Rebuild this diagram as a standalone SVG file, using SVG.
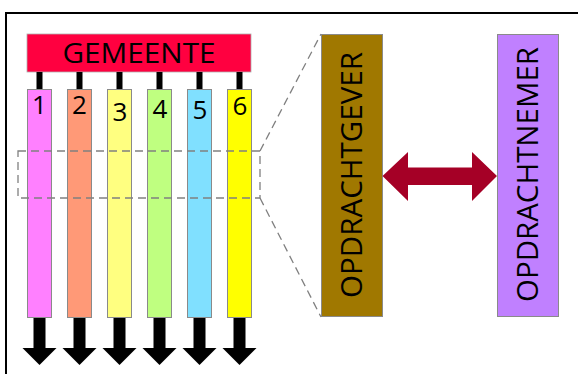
<svg xmlns="http://www.w3.org/2000/svg" width="578" height="374" viewBox="0 0 578 374">
<defs>
<style>
.lbl{font-family:"Open Sans","Noto Sans","Liberation Sans",sans-serif;fill:#000;}
.col{stroke:#8a8a8a;stroke-width:1;}
.stub{fill:#000;}
.down{fill:#000;}
.dash{fill:none;stroke:#808080;stroke-width:1.3;stroke-dasharray:8,5;}
.num{font-size:26px;text-anchor:middle;}
</style>
<path id="downArrow" d="M-6,0 H6 V30 H17 L0,47 L-17,30 H-6 Z"/>
</defs>
<rect x="0" y="0" width="578" height="374" fill="#fff"/>
<rect x="6" y="13" width="600" height="400" fill="none" stroke="#000" stroke-width="2"/>

<g id="gemeente">
  <rect x="27" y="34" width="224" height="38" fill="#FF0040" stroke="#b0b0b0" stroke-width="0.8"/>
  <text class="lbl" x="139" y="63" font-size="28" text-anchor="middle" textLength="153" lengthAdjust="spacingAndGlyphs">GEMEENTE</text>
</g>

<g id="col1"><rect class="col" x="27.5" y="89.5" width="24" height="228" fill="#FF80FF"/><text class="lbl num" x="39.5" y="114">1</text></g>
<g id="col2"><rect class="col" x="67.5" y="89.5" width="24" height="228" fill="#FF9977"/><text class="lbl num" x="79.5" y="114">2</text></g>
<g id="col3"><rect class="col" x="107.5" y="89.5" width="24" height="228" fill="#FFFF80"/><text class="lbl num" x="120" y="120.5">3</text></g>
<g id="col4"><rect class="col" x="147.5" y="89.5" width="24" height="228" fill="#BFFF80"/><text class="lbl num" x="160" y="118">4</text></g>
<g id="col5"><rect class="col" x="187.5" y="89.5" width="24" height="228" fill="#80E0FF"/><text class="lbl num" x="200" y="118.5">5</text></g>
<g id="col6"><rect class="col" x="227.5" y="89.5" width="24" height="228" fill="#FFFF00"/><text class="lbl num" x="240" y="114.5">6</text></g>

<g id="opdrachtgever">
  <rect x="321.5" y="34.5" width="61" height="282" fill="#A07800" stroke="#8a8a8a" stroke-width="1"/>
  <text class="lbl" transform="translate(362,175) rotate(-90)" font-size="29" text-anchor="middle" textLength="246" lengthAdjust="spacingAndGlyphs">OPDRACHTGEVER</text>
</g>

<g id="opdrachtnemer">
  <rect x="497.5" y="34.5" width="61" height="282" fill="#C080FF" stroke="#8a8a8a" stroke-width="1"/>
  <text class="lbl" transform="translate(538,174.5) rotate(-90)" font-size="30" text-anchor="middle" textLength="255" lengthAdjust="spacingAndGlyphs">OPDRACHTNEMER</text>
</g>

<g id="connectors">
  <rect class="stub" x="36.5" y="72" width="6" height="17"/>
  <rect class="stub" x="76.5" y="72" width="6" height="17"/>
  <rect class="stub" x="116.5" y="72" width="6" height="17"/>
  <rect class="stub" x="156.5" y="72" width="6" height="17"/>
  <rect class="stub" x="196.5" y="72" width="6" height="17"/>
  <rect class="stub" x="236.5" y="72" width="6" height="17"/>
  <use href="#downArrow" class="down" x="39.5" y="318"/>
  <use href="#downArrow" class="down" x="79.5" y="318"/>
  <use href="#downArrow" class="down" x="119.5" y="318"/>
  <use href="#downArrow" class="down" x="159.5" y="318"/>
  <use href="#downArrow" class="down" x="199.5" y="318"/>
  <use href="#downArrow" class="down" x="239.5" y="318"/>
  <rect class="dash" x="18" y="151" width="242" height="47"/>
  <line class="dash" x1="260" y1="151" x2="321" y2="34"/>
  <line class="dash" x1="260" y1="198" x2="321" y2="317"/>
  <path d="M382.5,176 L408,152 V167.5 H472 V152 L497,176 L472,201 V185 H408 V201 Z" fill="#A50026"/>
</g>
</svg>
